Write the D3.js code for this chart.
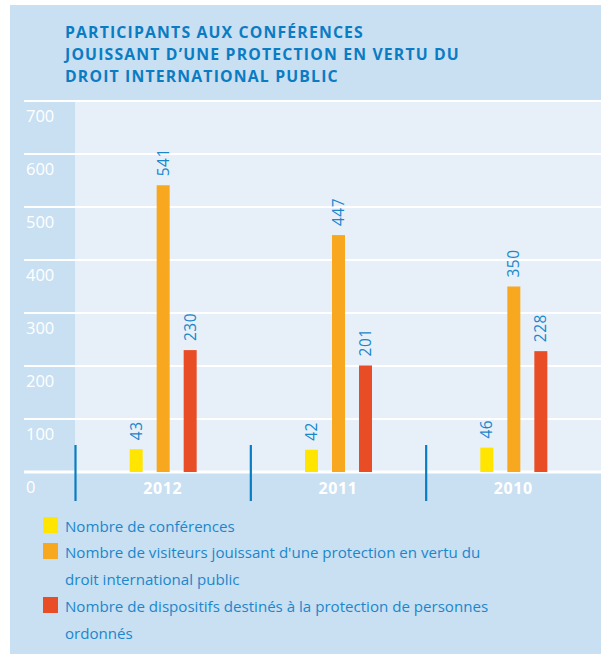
<!DOCTYPE html>
<html><head><meta charset="utf-8">
<script src="https://cdn.jsdelivr.net/npm/d3@7/dist/d3.min.js"></script>
<style>
html,body{margin:0;padding:0;background:#fff;}
svg{display:block;font-family:"Open Sans",sans-serif;}
</style></head>
<body>
<svg id="chart" width="601" height="655"></svg>
<script>
const titleLines = ["PARTICIPANTS AUX CONFÉRENCES", "JOUISSANT D’UNE PROTECTION EN VERTU DU", "DROIT INTERNATIONAL PUBLIC"];
const years = ["2012", "2011", "2010"];
const seriesNames = ["conf", "visit", "disp"];
const conferences = [43, 42, 46];
const visiteurs = [541, 447, 350];
const dispositifs = [230, 201, 228];
const yTicks = [0, 100, 200, 300, 400, 500, 600, 700];
const colors = ["#ffe500", "#f7a81e", "#e84d26"];
const legendLines = [
  ["Nombre de conférences"],
  ["Nombre de visiteurs jouissant d'une protection en vertu du", "droit international public"],
  ["Nombre de dispositifs destinés à la protection de personnes", "ordonnés"]
];

const svg = d3.select("#chart");
const blue = "#0a7cc3";
const textBlue = "#1b87cb";

// panel
svg.append("rect").attr("x", 10).attr("y", 5).attr("width", 591).attr("height", 649).attr("fill", "#c9dff2");

const y = d3.scaleLinear().domain([0, 700]).range([472, 101]);
const x0 = d3.scaleBand().domain(years).range([75, 601]).paddingInner(0).paddingOuter(0);
const x1 = d3.scaleBand().domain(seriesNames).range([-40, 41]).padding(0);

// plot area
svg.append("rect").attr("x", 75).attr("y", y(700)).attr("width", 601 - 75).attr("height", y(0) - y(700)).attr("fill", "#e7f0f8");

// title
svg.append("text").attr("x", 65).attr("y", 38)
  .attr("fill", blue).attr("font-weight", "bold").attr("font-size", 15.8).attr("letter-spacing", 1.15)
  .selectAll("tspan").data(titleLines).join("tspan")
  .attr("x", 65).attr("dy", (d, i) => i === 0 ? 0 : 22).text(d => d);

// gridlines
svg.append("g").selectAll("line").data(yTicks).join("line")
  .attr("x1", 24).attr("x2", 601)
  .attr("y1", d => y(d)).attr("y2", d => y(d))
  .attr("stroke", "#fff").attr("stroke-width", d => d === 0 ? 3 : 2.2);

// y labels
svg.append("g").selectAll("text").data(yTicks).join("text")
  .attr("x", 26).attr("y", d => y(d) + 21)
  .attr("fill", "#fff").attr("font-size", 16.5).text(d => d);

// dividers
svg.append("g").selectAll("line").data(years).join("line")
  .attr("x1", d => x0(d) + 0.5).attr("x2", d => x0(d) + 0.5)
  .attr("y1", 445).attr("y2", 501)
  .attr("stroke", blue).attr("stroke-width", 2.2);

// x labels
svg.append("g").selectAll("text").data(years).join("text")
  .attr("x", d => x0(d) + x0.bandwidth() / 2).attr("y", 494)
  .attr("text-anchor", "middle").attr("fill", "#fff").attr("font-weight", "bold").attr("font-size", 16)
  .attr("letter-spacing", 0.6).text(d => d);

// bars
const data = [];
years.forEach((yr, i) => {
  [conferences[i], visiteurs[i], dispositifs[i]].forEach((v, j) => {
    data.push({ year: yr, s: seriesNames[j], v, c: colors[j] });
  });
});
const bw = 13;
const g = svg.append("g");
g.selectAll("rect").data(data).join("rect")
  .attr("x", d => x0(d.year) + x0.bandwidth() / 2 + x1(d.s) + x1.bandwidth() / 2 - bw / 2)
  .attr("y", d => y(d.v)).attr("width", bw).attr("height", d => y(0) - y(d.v))
  .attr("fill", d => d.c);

g.selectAll("text").data(data).join("text")
  .attr("transform", d => {
    const cx = x0(d.year) + x0.bandwidth() / 2 + x1(d.s) + x1.bandwidth() / 2;
    return `translate(${cx + 5.5},${y(d.v) - 9}) rotate(-90)`;
  })
  .attr("fill", textBlue).attr("font-size", 15.5).attr("letter-spacing", 0.5).text(d => d.v);

// legend
const legendRows = [517, 543, 597];
const lg = svg.append("g");
legendLines.forEach((lines, i) => {
  lg.append("rect").attr("x", 43).attr("y", legendRows[i]).attr("width", 15).attr("height", 16).attr("fill", colors[i]);
  lines.forEach((t, k) => {
    lg.append("text").attr("x", 65).attr("y", legendRows[i] + 15 + k * 26.5)
      .attr("fill", textBlue).attr("font-size", 15.1).text(t);
  });
});
</script>
</body></html>
